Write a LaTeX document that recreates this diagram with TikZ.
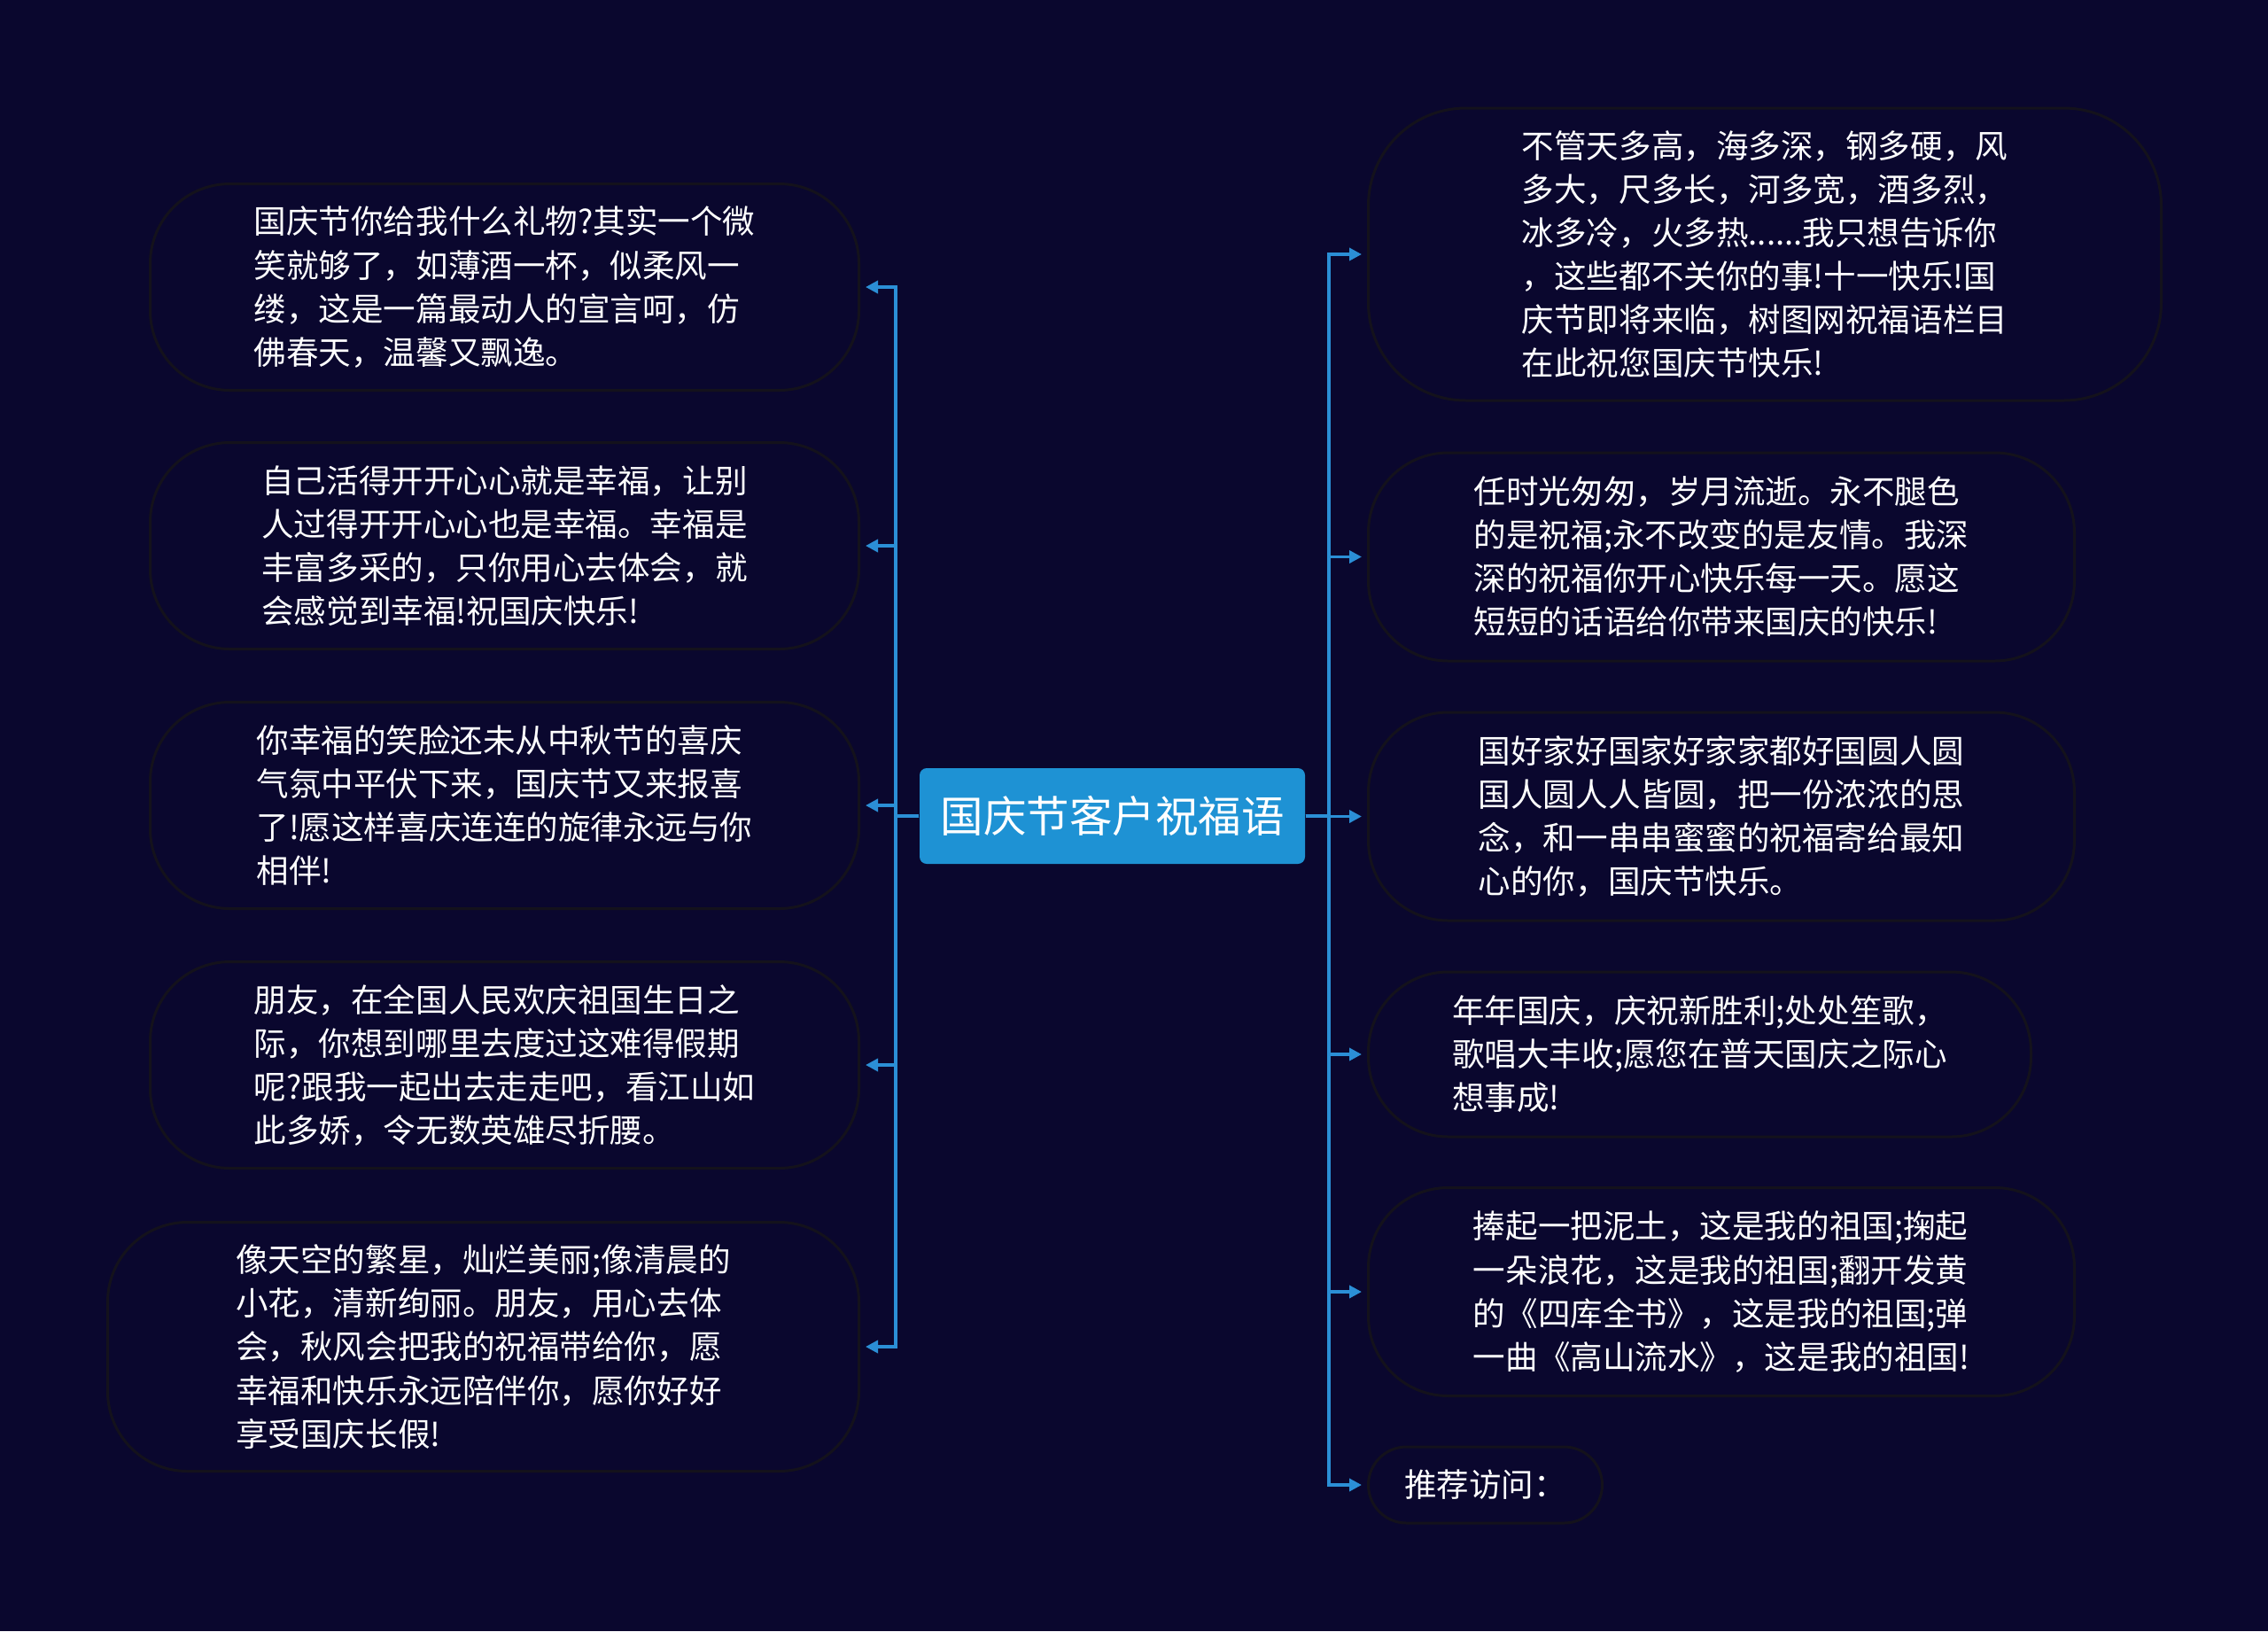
\documentclass[tikz,border=0pt]{standalone}
\usepackage{fontspec}
\setmainfont{Noto Sans CJK SC}
\usetikzlibrary{arrows.meta}
\definecolor{fundo}{RGB}{10,7,46}
\definecolor{azul}{RGB}{30,146,212}
\definecolor{linha}{RGB}{43,143,214}
\definecolor{borda}{RGB}{20,18,28}

\begin{document}
\begin{tikzpicture}[
  bolha/.style={draw=borda,line width=0.85pt,rounded corners=0.9cm,text=white,align=left,font=\fontsize{10.4}{13.95}\selectfont,inner sep=0pt},
  liga/.style={draw=linha,line width=1.1pt,-{Triangle[length=1.4mm,width=1.4mm]},shorten >=0.06cm}
]
\fill[fundo] (0,0) rectangle (25.6,-18.41);
\useasboundingbox (0,0) rectangle (25.6,-18.41);
\node[fill=azul,rounded corners=0.08cm,text=white,font=\fontsize{13.8}{16}\selectfont,minimum width=4.35cm,minimum height=1.08cm] (T) at (12.555,-9.21) {国庆节客户祝福语};
\node[bolha,anchor=east,minimum width=8cm,minimum height=2.33cm] (L1) at (9.71,-3.24) {国庆节你给我什么礼物?其实一个微\\笑就够了，如薄酒一杯，似柔风一\\缕，这是一篇最动人的宣言呵，仿\\佛春天，温馨又飘逸。};
\node[bolha,anchor=east,minimum width=8cm,minimum height=2.33cm] (L2) at (9.71,-6.16) {自己活得开开心心就是幸福，让别\\人过得开开心心也是幸福。幸福是\\丰富多采的，只你用心去体会，就\\会感觉到幸福!祝国庆快乐!};
\node[bolha,anchor=east,minimum width=8cm,minimum height=2.33cm] (L3) at (9.71,-9.09) {你幸福的笑脸还未从中秋节的喜庆\\气氛中平伏下来，国庆节又来报喜\\了!愿这样喜庆连连的旋律永远与你\\相伴!};
\node[bolha,anchor=east,minimum width=8cm,minimum height=2.33cm] (L4) at (9.71,-12.02) {朋友，在全国人民欢庆祖国生日之\\际，你想到哪里去度过这难得假期\\呢?跟我一起出去走走吧，看江山如\\此多娇，令无数英雄尽折腰。};
\node[bolha,anchor=east,minimum width=8.48cm,minimum height=2.81cm] (L5) at (9.71,-15.20) {像天空的繁星，灿烂美丽;像清晨的\\小花，清新绚丽。朋友，用心去体\\会，秋风会把我的祝福带给你，愿\\幸福和快乐永远陪伴你，愿你好好\\享受国庆长假!};
\node[bolha,anchor=west,rounded corners=1.1cm,minimum width=8.95cm,minimum height=3.3cm] (R1) at (15.43,-2.87) {不管天多高，海多深，钢多硬，风\\多大，尺多长，河多宽，酒多烈，\\冰多冷，火多热......我只想告诉你\\，这些都不关你的事!十一快乐!国\\庆节即将来临，树图网祝福语栏目\\在此祝您国庆节快乐!};
\node[bolha,anchor=west,minimum width=7.97cm,minimum height=2.35cm] (R2) at (15.43,-6.285) {任时光匆匆，岁月流逝。永不腿色\\的是祝福;永不改变的是友情。我深\\深的祝福你开心快乐每一天。愿这\\短短的话语给你带来国庆的快乐!};
\node[bolha,anchor=west,minimum width=7.97cm,minimum height=2.35cm] (R3) at (15.43,-9.215) {国好家好国家好家家都好国圆人圆\\国人圆人人皆圆，把一份浓浓的思\\念，和一串串蜜蜜的祝福寄给最知\\心的你，国庆节快乐。};
\node[bolha,anchor=west,minimum width=7.48cm,minimum height=1.86cm] (R4) at (15.43,-11.90) {年年国庆，庆祝新胜利;处处笙歌，\\歌唱大丰收;愿您在普天国庆之际心\\想事成!};
\node[bolha,anchor=west,minimum width=7.97cm,minimum height=2.35cm] (R5) at (15.43,-14.58) {捧起一把泥土，这是我的祖国;掬起\\一朵浪花，这是我的祖国;翻开发黄\\的《四库全书》，这是我的祖国;弹\\一曲《高山流水》，这是我的祖国!};
\node[bolha,anchor=west,rounded corners=0.43cm,minimum width=2.64cm,minimum height=0.86cm] (R6) at (15.43,-16.76) {推荐访问：};
\draw[liga] (T.west) -- ++(-0.26,0) |- (L1.east);
\draw[liga] (T.west) -- ++(-0.26,0) |- (L2.east);
\draw[liga] (T.west) -- ++(-0.26,0) |- (L3.east);
\draw[liga] (T.west) -- ++(-0.26,0) |- (L4.east);
\draw[liga] (T.west) -- ++(-0.26,0) |- (L5.east);
\draw[liga] (T.east) -- ++(0.26,0) |- (R1.west);
\draw[liga] (T.east) -- ++(0.26,0) |- (R2.west);
\draw[liga] (T.east) -- ++(0.26,0) |- (R3.west);
\draw[liga] (T.east) -- ++(0.26,0) |- (R4.west);
\draw[liga] (T.east) -- ++(0.26,0) |- (R5.west);
\draw[liga] (T.east) -- ++(0.26,0) |- (R6.west);
\end{tikzpicture}
\end{document}
